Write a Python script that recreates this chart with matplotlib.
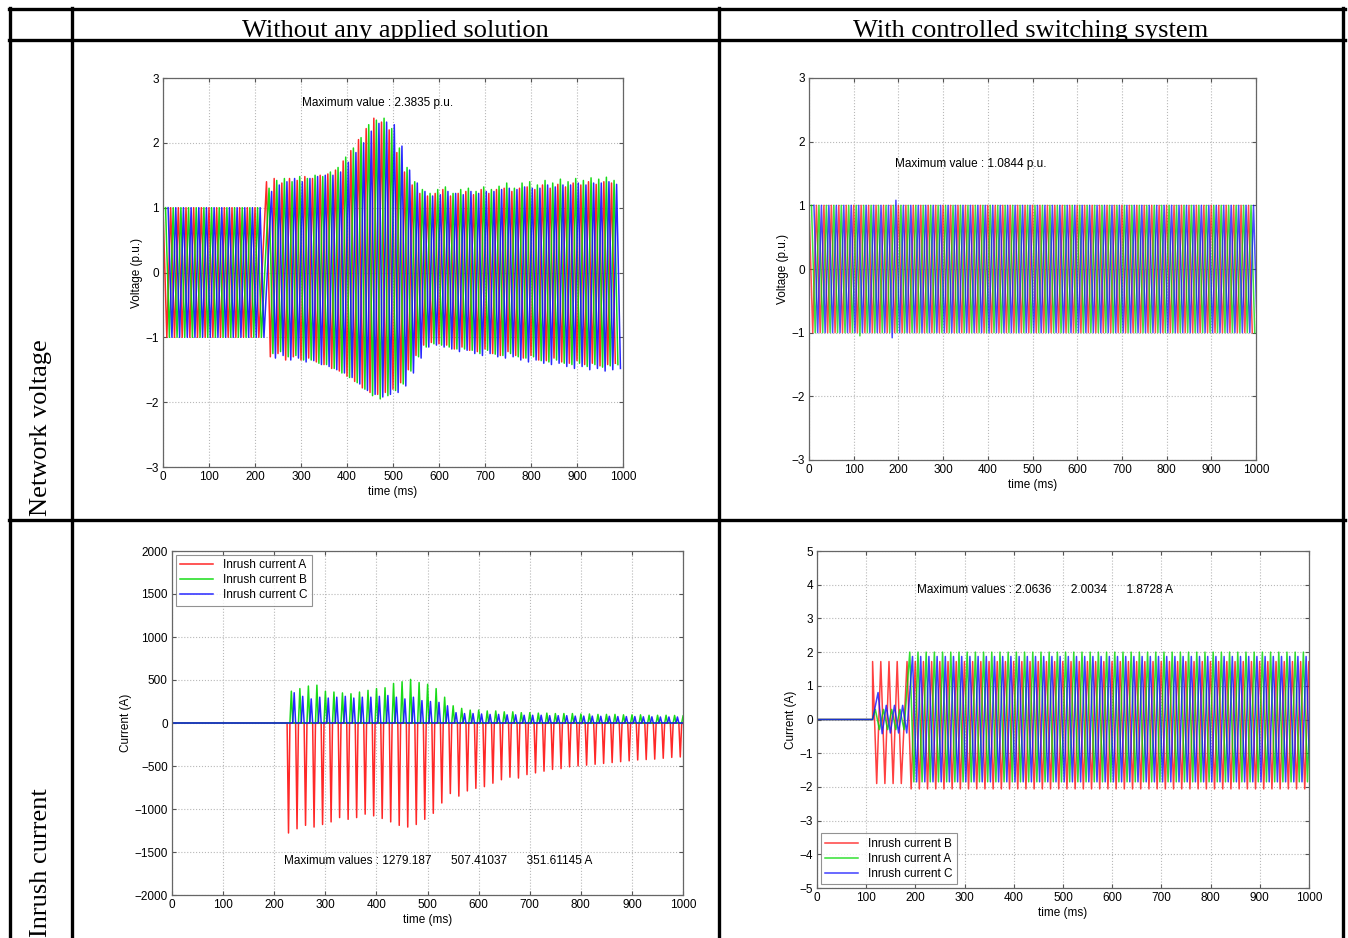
import numpy as np
import matplotlib
matplotlib.use("Agg")
import matplotlib.pyplot as plt
from matplotlib import font_manager
from matplotlib.lines import Line2D

W, H = 1348, 938
PERIOD_MS = 1000 / 60  # 60 Hz network

col_titles = ["Without any applied solution", "With controlled switching system"]
row_titles = ["Network voltage", "Inrush current"]
phase_colors = {"r": "#ff1010", "g": "#00d800", "b": "#1010ff"}

# --- network voltage, no solution (p.u.) ---
tl_pre_amp = 1.0
tl_switch_ms = 225
tl_peaks = {
    "r": [1.40, 1.45, 1.38, 1.45, 1.42, 1.48, 1.45, 1.50, 1.52, 1.58, 1.72, 1.88, 2.05, 2.22, 2.38, 2.32,
          2.20, 1.85, 1.55, 1.35, 1.22, 1.18, 1.22, 1.28, 1.18, 1.22, 1.25, 1.20, 1.28, 1.22, 1.28, 1.30,
          1.25, 1.30, 1.32, 1.28, 1.35, 1.30, 1.36, 1.32, 1.38, 1.35, 1.40, 1.36, 1.40, 1.38],
    "g": [1.30, 1.42, 1.45, 1.40, 1.48, 1.45, 1.50, 1.48, 1.55, 1.62, 1.78, 1.92, 2.08, 2.28, 2.35, 2.38,
          2.22, 1.92, 1.62, 1.40, 1.28, 1.22, 1.28, 1.32, 1.22, 1.28, 1.30, 1.25, 1.32, 1.28, 1.33, 1.38,
          1.30, 1.38, 1.40, 1.35, 1.42, 1.38, 1.44, 1.40, 1.45, 1.42, 1.46, 1.44, 1.47, 1.42],
    "b": [1.25, 1.35, 1.40, 1.45, 1.40, 1.45, 1.48, 1.50, 1.50, 1.55, 1.70, 1.85, 2.00, 2.18, 2.30, 2.32,
          2.28, 1.95, 1.58, 1.38, 1.25, 1.18, 1.20, 1.25, 1.22, 1.20, 1.25, 1.22, 1.25, 1.25, 1.28, 1.30,
          1.28, 1.32, 1.30, 1.30, 1.35, 1.32, 1.35, 1.35, 1.38, 1.35, 1.38, 1.38, 1.40, 1.36],
}
tl_troughs = {
    "r": [-1.30, -1.25, -1.35, -1.30, -1.35, -1.32, -1.38, -1.42, -1.48, -1.52, -1.60, -1.68, -1.78, -1.85,
          -1.88, -1.85, -1.80, -1.70, -1.50, -1.28, -1.12, -1.08, -1.10, -1.12, -1.18, -1.15, -1.20, -1.22,
          -1.18, -1.25, -1.28, -1.22, -1.28, -1.32, -1.28, -1.35, -1.36, -1.32, -1.38, -1.40, -1.36, -1.42,
          -1.40, -1.44, -1.42, -1.40],
    "g": [-1.25, -1.22, -1.30, -1.28, -1.35, -1.35, -1.40, -1.42, -1.48, -1.55, -1.62, -1.70, -1.80, -1.90,
          -1.95, -1.90, -1.82, -1.72, -1.52, -1.30, -1.15, -1.10, -1.12, -1.15, -1.18, -1.18, -1.20, -1.25,
          -1.20, -1.26, -1.28, -1.25, -1.30, -1.32, -1.30, -1.36, -1.38, -1.35, -1.40, -1.42, -1.40, -1.45,
          -1.42, -1.46, -1.44, -1.42],
    "b": [-1.32, -1.28, -1.35, -1.32, -1.38, -1.36, -1.42, -1.45, -1.50, -1.55, -1.62, -1.72, -1.82, -1.88,
          -1.92, -1.88, -1.85, -1.75, -1.55, -1.32, -1.15, -1.12, -1.15, -1.18, -1.22, -1.20, -1.25, -1.28,
          -1.25, -1.30, -1.32, -1.30, -1.35, -1.38, -1.35, -1.40, -1.42, -1.40, -1.45, -1.48, -1.45, -1.50,
          -1.48, -1.52, -1.50, -1.48],
}
tl_note = "Maximum value : 2.3835 p.u."

# --- network voltage, controlled switching (p.u.) ---
tr_amp = 1.0
tr_cycles = 60
tr_blips = [("g", 110, -1.05), ("b", 185, -1.08), ("b", 193, 1.08)]
tr_note = "Maximum value : 1.0844 p.u."

# --- inrush current, no solution (A) ---
bl_start_ms = 228
bl_labels = {"r": "Inrush current A", "g": "Inrush current B", "b": "Inrush current C"}
bl_spikes = {
    "r": [-1279, -1230, -1190, -1210, -1180, -1150, -1100, -1120, -1100, -1060, -1080, -1110, -1150, -1190,
          -1210, -1180, -1120, -1050, -930, -820, -850, -790, -760, -740, -700, -660, -630, -640, -600, -580,
          -560, -540, -530, -510, -500, -490, -480, -470, -460, -450, -440, -430, -425, -420, -410, -400, -395],
    "g": [370, 400, 430, 440, 370, 360, 350, 340, 360, 380, 400, 410, 460, 480, 507, 470, 450, 400, 300, 200,
          170, 150, 150, 140, 140, 130, 130, 120, 120, 115, 115, 110, 110, 110, 105, 105, 100, 100, 100, 95,
          95, 95, 90, 90, 90, 88, 85],
    "b": [352, 310, 280, 300, 290, 300, 310, 290, 300, 300, 310, 320, 300, 280, 300, 260, 250, 240, 200, 120,
          110, 110, 105, 100, 100, 95, 95, 90, 90, 90, 85, 85, 85, 80, 80, 80, 78, 78, 75, 75, 75, 72, 72,
          70, 70, 70, 68],
}
bl_note = "Maximum values : 1279.187      507.41037      351.61145 A"

# --- inrush current, controlled switching (A) ---
br_energize_ms = 113
br_full_ms = 183
br_labels = {"r": "Inrush current B", "g": "Inrush current A", "b": "Inrush current C"}
br_first = {"r": (1.72, -1.90), "g": (0.30, -0.30), "b": (0.80, -0.42)}
br_pre = {"r": (1.72, -1.90), "g": (0.30, -0.30), "b": (0.42, -0.40)}
br_post = {"r": (1.72, -2.06), "g": (2.00, -1.85), "b": (1.87, -1.85)}
br_pre_cycles = 4
br_post_cycles = 50
br_note = "Maximum values : 2.0636      2.0034      1.8728 A"


def pick_font(names):
    for name in names:
        try:
            font_manager.findfont(name, fallback_to_default=False)
            return name
        except ValueError:
            continue
    return "DejaVu Sans"


SANS = pick_font(["Liberation Sans Narrow", "Liberation Sans", "DejaVu Sans"])
SERIF = pick_font(["Liberation Serif", "DejaVu Serif"])
plt.rcParams["font.family"] = [SANS, "DejaVu Sans"]

LW = 1.1


def px_rect(left, top, right, bottom):
    return [left / W, 1 - bottom / H, (right - left) / W, (bottom - top) / H]


def sine_trace(t0, peaks, troughs):
    y = np.empty(2 * len(peaks))
    y[0::2] = peaks
    y[1::2] = troughs
    x = t0 + np.arange(y.size) * PERIOD_MS / 2
    return x, y


def spike_trace(t0, peaks):
    # one narrow spike per cycle, baseline zero in between
    y = np.zeros(6 * len(peaks))
    y[1::6] = peaks
    x = t0 - PERIOD_MS / 6 + np.arange(y.size) * PERIOD_MS / 6
    return x, y


def style_axes(ax, ylim, yticks, ylabel):
    ax.set_xlim(0, 1000)
    ax.set_ylim(*ylim)
    ax.set_xticks(np.arange(0, 1001, 100))
    ax.set_yticks(yticks)
    ax.grid(True, color="#b8b8b8", linestyle=":", linewidth=0.8)
    ax.tick_params(direction="in", top=True, right=True, labelsize=8.5, length=3, color="#555555", pad=3)
    for spine in ax.spines.values():
        spine.set_color("#666666")
        spine.set_linewidth(0.9)
    ax.set_xlabel("time (ms)", fontsize=8.5, labelpad=2)
    ax.set_ylabel(ylabel, fontsize=8.5, labelpad=2)


fig = plt.figure(figsize=(W / 100, H / 100), dpi=100)

# top-left: voltage without solution
ax = fig.add_axes(px_rect(163, 78, 623, 467))
for k, ph in enumerate("rgb"):
    off = k * PERIOD_MS / 3
    n_pre = 13
    x0, y0 = sine_trace(off, [tl_pre_amp] * n_pre, [-tl_pre_amp] * n_pre)
    x1, y1 = sine_trace(tl_switch_ms + off, tl_peaks[ph], tl_troughs[ph])
    ax.plot(np.r_[x0, x1], np.r_[y0, y1], color=phase_colors[ph], lw=LW, alpha=0.9)
style_axes(ax, (-3, 3), np.arange(-3, 4), "Voltage (p.u.)")
ax.text(302, 2.62, tl_note, fontsize=8.5, va="center")

# top-right: voltage with controlled switching
ax = fig.add_axes(px_rect(809, 78, 1256, 460))
for k, ph in enumerate("rgb"):
    off = k * PERIOD_MS / 3
    x, y = sine_trace(off, [tr_amp] * tr_cycles, [-tr_amp] * tr_cycles)
    for bph, t, v in tr_blips:
        if bph == ph:
            cand = np.where(np.sign(y) == np.sign(v))[0]
            y[cand[np.argmin(np.abs(x[cand] - t))]] = v
    ax.plot(x, y, color=phase_colors[ph], lw=LW, alpha=0.75)
style_axes(ax, (-3, 3), np.arange(-3, 4), "Voltage (p.u.)")
ax.text(192, 1.65, tr_note, fontsize=8.5, va="center")

# bottom-left: inrush without solution
ax = fig.add_axes(px_rect(172, 551, 683, 895))
handles = []
for k, ph in enumerate("rgb"):
    off = k * PERIOD_MS / 3
    x, y = spike_trace(bl_start_ms + off, bl_spikes[ph])
    x = np.r_[0, x[0], x]
    y = np.r_[0, 0, y]
    h, = ax.plot(x, y, color=phase_colors[ph], lw=LW, alpha=0.9, label=bl_labels[ph])
    handles.append(h)
style_axes(ax, (-2000, 2000), np.arange(-2000, 2001, 500), "Current (A)")
ax.text(220, -1600, bl_note, fontsize=8.5, va="center")
leg = ax.legend(handles=handles, loc="upper left", fontsize=8.5, frameon=True, fancybox=False,
                handlelength=2.8, borderpad=0.4, labelspacing=0.25, borderaxespad=0.3)
leg.get_frame().set_edgecolor("#777777")
leg.get_frame().set_linewidth(0.8)

# bottom-right: inrush with controlled switching
ax = fig.add_axes(px_rect(817, 551, 1309, 888))
handles = []
for k, ph in enumerate("rgb"):
    off = k * PERIOD_MS / 3
    pk = [br_first[ph][0]] + [br_pre[ph][0]] * (br_pre_cycles - 1)
    tr = [br_first[ph][1]] + [br_pre[ph][1]] * (br_pre_cycles - 1)
    x0, y0 = sine_trace(br_energize_ms + off, pk, tr)
    x1, y1 = sine_trace(br_full_ms + off, [br_post[ph][0]] * br_post_cycles,
                        [br_post[ph][1]] * br_post_cycles)
    x = np.r_[0, br_energize_ms, x0, x1]
    y = np.r_[0, 0, y0, y1]
    h, = ax.plot(x, y, color=phase_colors[ph], lw=LW, alpha=0.8, label=br_labels[ph])
    handles.append(h)
style_axes(ax, (-5, 5), np.arange(-5, 6), "Current (A)")
ax.text(203, 3.84, br_note, fontsize=8.5, va="center")
leg = ax.legend(handles=handles, loc="lower left", fontsize=8.5, frameon=True, fancybox=False,
                handlelength=2.8, borderpad=0.4, labelspacing=0.25, borderaxespad=0.3)
leg.get_frame().set_edgecolor("#777777")
leg.get_frame().set_linewidth(0.8)


# table frame
def hline(y, x0, x1):
    fig.add_artist(Line2D([x0 / W, x1 / W], [1 - y / H, 1 - y / H], color="black", lw=2.4))


def vline(x, y0, y1):
    fig.add_artist(Line2D([x / W, x / W], [1 - y0 / H, 1 - y1 / H], color="black", lw=2.4))


hline(9, 9, 1345)
hline(40, 9, 1345)
hline(520, 9, 1345)
for xv in (10, 72, 719, 1343):
    vline(xv, 8, 940)

fig.text((72 + 719) / 2 / W, 1 - 37 / H, col_titles[0], family=SERIF, fontsize=19, ha="center", va="baseline")
fig.text((719 + 1343) / 2 / W, 1 - 37 / H, col_titles[1], family=SERIF, fontsize=19, ha="center", va="baseline")
fig.text(41 / W, 1 - 516 / H, row_titles[0], family=SERIF, fontsize=19, rotation=90, ha="center", va="bottom")
fig.text(41 / W, 1 - 937 / H, row_titles[1], family=SERIF, fontsize=19, rotation=90, ha="center", va="bottom")

fig.savefig("out.png", dpi=100)
